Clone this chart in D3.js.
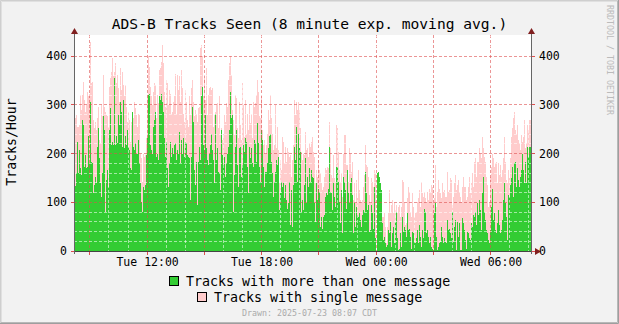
<!DOCTYPE html>
<html><head><meta charset="utf-8">
<script src="https://cdn.jsdelivr.net/npm/d3@7"></script>
<style>html,body{margin:0;padding:0;background:#F2F2F2;} svg{display:block;}</style>
</head><body><svg id="chart" width="619" height="324"></svg>
<script>
// ---- data (one value per pixel column, Tue 08:07 -> Wed 08:07) ----
const multiMessage = [133,133,133,159,224,159,207,170,156,269,258,173,197,170,173,235,180,306,183,180,118,135,152,139,214,252,190,139,111,159,276,248,81,146,166,132,248,293,217,224,217,354,217,235,221,279,258,306,286,214,310,211,235,217,248,214,207,170,166,286,214,207,221,200,200,228,180,139,101,81,132,125,135,197,231,320,323,217,207,200,255,269,286,193,200,187,317,310,323,306,286,231,193,224,170,132,180,224,193,211,200,217,221,187,207,200,245,180,228,200,231,193,224,221,197,193,190,105,193,296,265,166,135,183,94,183,214,187,317,337,217,207,279,211,187,176,200,217,241,207,187,139,282,187,211,163,159,125,248,197,176,193,152,180,200,214,248,327,272,279,81,156,214,248,176,132,211,214,152,176,217,204,231,224,173,118,214,190,211,180,173,228,221,183,262,221,173,142,248,228,173,132,163,163,180,211,235,241,183,159,111,142,163,187,176,193,84,118,142,132,139,108,135,105,87,98,142,53,125,50,135,214,187,255,142,241,211,204,81,105,84,135,190,98,152,132,170,142,166,152,149,98,60,139,105,128,122,50,70,46,70,74,111,118,115,128,214,122,118,84,139,111,91,173,173,142,101,57,125,36,152,142,125,87,166,118,98,139,149,115,36,98,50,91,74,70,77,64,50,74,84,81,163,118,84,94,40,43,94,77,46,132,26,0,159,163,152,139,125,57,23,29,16,9,12,43,36,60,9,36,50,16,60,81,26,2,5,36,9,70,40,50,43,29,77,43,46,29,5,40,36,19,16,26,43,16,53,29,9,43,26,87,81,36,43,29,16,29,9,5,2,77,98,29,2,9,16,19,50,29,16,26,19,16,64,43,46,36,26,81,19,50,64,2,60,29,57,2,2,67,57,43,23,5,40,36,26,23,57,50,74,70,81,53,98,74,105,84,43,118,152,81,64,43,36,23,16,43,91,128,64,77,43,36,57,84,53,36,43,64,105,139,98,70,23,115,111,135,149,173,111,180,183,132,170,146,132,152,166,200,166,139,183,139,214,193,214,214];
const totalSeen = [272,272,272,279,255,255,258,320,289,320,347,310,286,299,327,317,323,429,344,347,269,252,265,248,272,296,228,221,299,276,361,296,286,279,276,255,337,354,368,395,358,368,385,344,361,334,306,375,330,368,341,317,341,296,265,286,269,224,265,286,272,306,293,279,255,282,279,200,190,142,200,193,197,231,320,399,378,337,317,299,327,344,341,272,320,303,371,375,388,423,385,327,296,351,344,299,330,323,282,286,306,317,364,282,361,330,358,306,371,334,282,265,330,306,269,255,317,279,334,351,306,276,289,282,265,293,296,416,423,399,317,354,310,375,279,320,334,337,330,334,255,279,286,299,303,252,317,238,252,228,241,279,265,303,296,351,385,399,361,289,269,238,320,313,252,231,306,258,228,344,299,234,310,241,282,248,299,262,282,231,306,296,303,320,351,327,276,272,317,248,217,228,200,217,241,289,269,320,272,241,207,217,299,211,255,207,139,187,166,234,224,180,214,183,211,204,193,197,152,187,217,310,279,306,289,306,289,252,204,187,200,197,245,207,211,193,221,214,224,234,204,193,139,166,152,187,166,159,139,125,132,152,170,166,173,170,265,211,156,149,197,149,142,258,252,204,166,142,159,111,200,238,238,176,176,142,211,200,162,183,105,139,98,146,108,166,125,105,98,105,132,156,217,176,173,152,115,98,149,142,132,166,159,0,159,163,152,139,125,70,70,77,50,16,50,77,125,77,94,105,77,98,84,94,77,91,94,70,91,146,142,98,53,57,108,132,122,81,70,118,91,70,77,81,101,108,125,91,142,118,111,122,108,98,122,105,128,122,135,132,98,108,176,91,122,146,128,118,108,139,122,125,111,111,163,122,125,149,146,94,111,139,156,125,135,146,122,111,101,132,152,132,132,105,111,132,152,118,139,159,132,183,190,152,183,183,211,200,190,234,211,193,183,152,135,91,98,152,173,200,190,173,180,183,139,180,156,176,152,166,190,234,183,146,139,166,149,190,234,252,272,286,248,241,258,228,221,207,238,224,234,269,211,221,258,248,269,269];
const yTicks = [0, 100, 200, 300, 400];
const seriesNames = ["Tracks with more than one message", "Tracks with single message"];
const seriesColors = ["#33CC33", "#FFCCCC"];
const chartTitle = "ADS-B Tracks Seen (8 minute exp. moving avg.)";
const yTitle = "Tracks/Hour";
const drawnText = "Drawn: 2025-07-23 08:07 CDT";
const watermark = "RRDTOOL / TOBI OETIKER";
const startTime = Date.UTC(2025, 6, 22, 8, 7);
const endTime = Date.UTC(2025, 6, 23, 8, 7);

(function () {
const W = 619, H = 324;
const pL = 74, pR = 531, pT = 35, pB = 251;
const FONT = "'DejaVu Sans Mono', monospace";
const svg = d3.select("#chart");

// frame
svg.append("rect").attr("width", W).attr("height", H).attr("fill", "#F2F2F2");
svg.append("path").attr("d", `M0.5,${H} V0.5 H${W}`).attr("fill","none").attr("stroke","#CFCFCF").attr("stroke-width",1);
svg.append("path").attr("d", `M1.5,${H} V1.5 H${W}`).attr("fill","none").attr("stroke","#E0E0E0").attr("stroke-width",1);
svg.append("path").attr("d", `M0,${H-0.5} H${W-0.5} V0`).attr("fill","none").attr("stroke","#9E9E9E").attr("stroke-width",1);
svg.append("path").attr("d", `M1,${H-1.5} H${W-1.5} V1`).attr("fill","none").attr("stroke","#B8B8B8").attr("stroke-width",1);

// canvas
svg.append("rect").attr("x", pL).attr("y", pT).attr("width", pR - pL).attr("height", pB - pT).attr("fill", "#FFFFFF");

const n = multiMessage.length;
const step = (endTime - startTime) / n;
const x = d3.scaleUtc().domain([new Date(startTime), new Date(endTime)]).range([73, 531]);
const y = d3.scaleLinear().domain([0, 443.08]).range([pB, pT]);

const rows = multiMessage.map((m, i) => ({ t: new Date(startTime + i * step), multi: m, single: Math.max(0, totalSeen[i] - m) }));
rows.push({ t: new Date(endTime), multi: multiMessage[n - 1], single: Math.max(0, totalSeen[n - 1] - multiMessage[n - 1]) });
const stacked = d3.stack().keys(["multi", "single"])(rows);

svg.append("clipPath").attr("id", "clip").append("rect").attr("x", pL).attr("y", pT).attr("width", pR - pL).attr("height", pB - pT);
const area = d3.area().curve(d3.curveStepAfter).x(d => x(d.data.t)).y0(d => y(d[0])).y1(d => y(d[1]));
svg.append("g").attr("clip-path", "url(#clip)").selectAll("path").data(stacked).join("path")
  .attr("d", area).attr("fill", (d, i) => seriesColors[i]).attr("shape-rendering", "crispEdges");

// grid
const grid = svg.append("g").attr("shape-rendering", "crispEdges");
const minorCol = "rgba(255,255,255,0.55)", majorCol = "rgba(222,79,79,0.6)";
const px = v => Math.floor(x(v)) + 0.5;
const py = v => Math.floor(y(v)) + 0.5;
const hours = d3.utcHour.range(new Date(startTime), new Date(endTime));
hours.forEach(h => {
  const major = h.getUTCHours() % 3 === 0;
  grid.append("line").attr("x1", px(h)).attr("x2", px(h)).attr("y1", pT).attr("y2", pB)
    .attr("stroke", major ? majorCol : minorCol).attr("stroke-dasharray", "3,2");
});
d3.range(20, 441, 20).forEach(v => {
  const major = v % 100 === 0;
  grid.append("line").attr("x1", pL).attr("x2", pR).attr("y1", py(v)).attr("y2", py(v))
    .attr("stroke", major ? majorCol : minorCol).attr("stroke-dasharray", "3,2");
});

// axes
const ax = svg.append("g").attr("shape-rendering", "crispEdges");
const axisCol = "#444", arrowCol = "#801F1F";
ax.append("line").attr("x1", 71).attr("x2", 536).attr("y1", pB + 0.5).attr("y2", pB + 0.5).attr("stroke", axisCol);
ax.append("line").attr("x1", pL + 0.5).attr("x2", pL + 0.5).attr("y1", 31).attr("y2", pB + 3).attr("stroke", "#666");
ax.append("line").attr("x1", pR + 0.5).attr("x2", pR + 0.5).attr("y1", 31).attr("y2", pB + 3).attr("stroke", "#666");
hours.filter(h => h.getUTCHours() % 3 === 0).forEach(h => {
  ax.append("line").attr("x1", px(h)).attr("x2", px(h)).attr("y1", pB + 1).attr("y2", pB + 4).attr("stroke", "#DE4F4F");
});
yTicks.forEach(v => {
  ax.append("line").attr("x1", pL - 3).attr("x2", pL).attr("y1", py(v)).attr("y2", py(v)).attr("stroke", "#DE4F4F");
  ax.append("line").attr("x1", pR + 1).attr("x2", pR + 4).attr("y1", py(v)).attr("y2", py(v)).attr("stroke", "#DE4F4F");
});
svg.append("path").attr("d", `M${pL - 3},34 L${pL + 4},34 L${pL + 0.5},28 Z`).attr("fill", arrowCol);
svg.append("path").attr("d", `M${pR - 3},34 L${pR + 4},34 L${pR + 0.5},28 Z`).attr("fill", arrowCol);
svg.append("path").attr("d", `M535,248 L535,255 L541,251.5 Z`).attr("fill", arrowCol);

// tick labels
const fmt = d3.utcFormat("%a %H:%M");
const labelHours = hours.filter(h => h.getUTCHours() % 6 === 0);
svg.append("g").selectAll("text").data(labelHours).join("text")
  .attr("x", d => x(d) + 0.5).attr("y", 266).attr("text-anchor", "middle")
  .attr("font-family", FONT).attr("font-size", 11.5).attr("fill", "#000").text(d => fmt(d));
svg.append("g").selectAll("text").data(yTicks).join("text")
  .attr("x", 67).attr("y", d => y(d) + 4).attr("text-anchor", "end")
  .attr("font-family", FONT).attr("font-size", 11.5).text(d => d);
svg.append("g").selectAll("text").data(yTicks).join("text")
  .attr("x", 539).attr("y", d => y(d) + 4).attr("text-anchor", "start")
  .attr("font-family", FONT).attr("font-size", 11.5).text(d => d);

// titles
svg.append("text").attr("x", 309.5).attr("y", 28.5).attr("text-anchor", "middle")
  .attr("font-family", FONT).attr("font-size", 14.6).text(chartTitle);
svg.append("text").attr("transform", "translate(16,142) rotate(-90)").attr("text-anchor", "middle")
  .attr("font-family", FONT).attr("font-size", 13.2).text(yTitle);

// legend
const legendPos = [{bx: 169.5, by: 276.5, tx: 186, ty: 286}, {bx: 197.5, by: 292.5, tx: 214, ty: 302}];
seriesNames.forEach((name, i) => {
  const p = legendPos[i];
  svg.append("rect").attr("x", p.bx).attr("y", p.by).attr("width", 9).attr("height", 9)
    .attr("fill", seriesColors[i]).attr("stroke", "#000").attr("shape-rendering", "crispEdges");
  svg.append("text").attr("x", p.tx).attr("y", p.ty).attr("font-family", FONT).attr("font-size", 13.3).text(name);
});
svg.append("text").attr("x", 309.5).attr("y", 315.5).attr("text-anchor", "middle")
  .attr("font-family", FONT).attr("font-size", 8.3).attr("fill", "#AAAAAA").text(drawnText);
svg.append("text").attr("transform", "translate(606.5,5) rotate(90)")
  .attr("font-family", FONT).attr("font-size", 8.3).attr("fill", "#BBBBBB").text(watermark);
})();
</script></body></html>
